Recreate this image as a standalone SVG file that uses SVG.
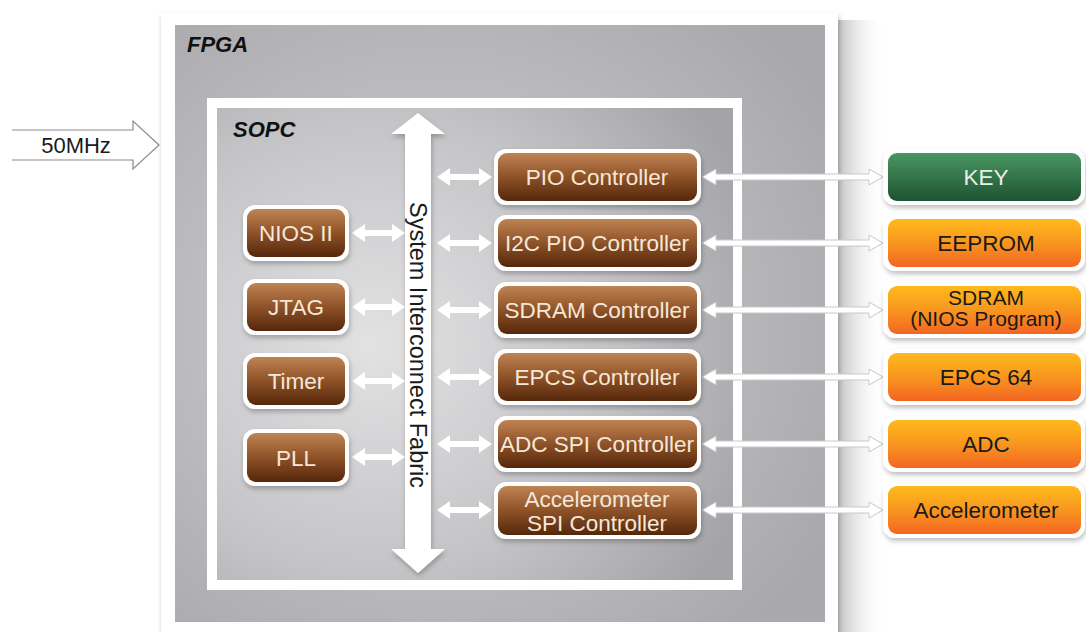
<svg xmlns="http://www.w3.org/2000/svg" width="1086" height="632" viewBox="0 0 1086 632">
<defs>
<linearGradient id="brown" x1="0" y1="0" x2="0" y2="1">
<stop offset="0" stop-color="#c08352"/><stop offset="0.5" stop-color="#8e5228"/><stop offset="1" stop-color="#55270a"/>
</linearGradient>
<linearGradient id="green" x1="0" y1="0" x2="0" y2="1">
<stop offset="0" stop-color="#4b9662"/><stop offset="1" stop-color="#1d5331"/>
</linearGradient>
<linearGradient id="orange" x1="0" y1="0" x2="0" y2="1">
<stop offset="0" stop-color="#ffba1c"/><stop offset="0.55" stop-color="#f8921f"/><stop offset="1" stop-color="#f26522"/>
</linearGradient>
<radialGradient id="fpgaBg" cx="0.4" cy="0.5" r="0.7">
<stop offset="0" stop-color="#d2d2d4"/><stop offset="1" stop-color="#a9a9ad"/>
</radialGradient>
<radialGradient id="sopcBg" cx="0.3" cy="0.5" r="0.8">
<stop offset="0" stop-color="#e2e2e3"/><stop offset="0.6" stop-color="#c4c4c7"/><stop offset="1" stop-color="#a4a4a8"/>
</radialGradient>
<linearGradient id="shadowR" x1="0" y1="0" x2="1" y2="0">
<stop offset="0" stop-color="#9a9a9e" stop-opacity="0.6"/><stop offset="1" stop-color="#ffffff" stop-opacity="0"/>
</linearGradient>
<filter id="ds" x="-10%" y="-10%" width="130%" height="140%">
<feDropShadow dx="1" dy="3" stdDeviation="2.5" flood-color="#000" flood-opacity="0.25"/>
</filter>
<style>
.frame{fill:#ffffff}
.bwrap{fill:#ffffff}
.bbox{fill:url(#brown)}
.gbox{fill:url(#green)}
.obox{fill:url(#orange)}
.lt{font-family:"Liberation Sans",Arial,sans-serif;font-size:22.5px;fill:#f5e8d8;text-anchor:middle}
.dt{font-family:"Liberation Sans",Arial,sans-serif;font-size:22.5px;fill:#1a1a1a;text-anchor:middle}
.gt{font-family:"Liberation Sans",Arial,sans-serif;font-size:22.5px;fill:#e8f0ea;text-anchor:middle}
.title{font-family:"Liberation Sans",Arial,sans-serif;font-size:22px;font-weight:bold;font-style:italic;fill:#111}
.arr{fill:#ffffff;stroke:#c8c8c8;stroke-width:1}
.warr{fill:#ffffff}
</style>
</defs>
<rect width="1086" height="632" fill="#ffffff"/>

<!-- FPGA -->
<g id="fpga">
<rect x="838" y="20" width="48" height="612" fill="url(#shadowR)"/>
<rect x="161" y="13" width="677" height="630" class="frame" filter="url(#ds)"/>
<rect x="175" y="25" width="650" height="597" fill="url(#fpgaBg)"/>
<text x="187" y="52" class="title">FPGA</text>
</g>

<!-- SOPC -->
<g id="sopc">
<rect x="207" y="98" width="535" height="492" class="frame"/>
<rect x="217" y="108" width="516" height="472" fill="url(#sopcBg)"/>
<text x="233" y="137" class="title">SOPC</text>
</g>

<!-- 50MHz input -->
<g id="clk">
<path d="M12 130 H133 V121 L159 145 L133 169 V160 H12" fill="#ffffff" stroke="#8a8a8a" stroke-width="1.2"/>
<text x="76" y="153" class="dt" style="font-size:22px">50MHz</text>
</g>

<!-- Bus -->
<g id="bus">
<polygon points="418,113 445,134 431,134 431,549 445,549 418,573 391,549 405,549 405,134 391,134" class="warr" filter="url(#ds)"/>
<text transform="translate(410,345) rotate(90)" class="dt" style="font-size:23.5px">System Interconnect Fabric</text>
</g>

<!-- connectors -->
<g id="connectors">
<!-- left modules to bus -->
<g class="warr">
<polygon points="352,233 365,224 365,230 392,230 392,224 405,233 392,242 392,236 365,236 365,242"/>
<polygon points="352,307 365,298 365,304 392,304 392,298 405,307 392,316 392,310 365,310 365,316"/>
<polygon points="352,381 365,372 365,378 392,378 392,372 405,381 392,390 392,384 365,384 365,390"/>
<polygon points="352,457 365,448 365,454 392,454 392,448 405,457 392,466 392,460 365,460 365,466"/>
</g>
<!-- bus to controllers -->
<g class="warr">
<polygon points="437,177 450,168 450,174 479,174 479,168 492,177 479,186 479,180 450,180 450,186"/>
<polygon points="437,243 450,234 450,240 479,240 479,234 492,243 479,252 479,246 450,246 450,252"/>
<polygon points="437,310 450,301 450,307 479,307 479,301 492,310 479,319 479,313 450,313 450,319"/>
<polygon points="437,377 450,368 450,374 479,374 479,368 492,377 479,386 479,380 450,380 450,386"/>
<polygon points="437,444 450,435 450,441 479,441 479,435 492,444 479,453 479,447 450,447 450,453"/>
<polygon points="437,510 450,501 450,507 479,507 479,501 492,510 479,519 479,513 450,513 450,519"/>
</g>
<!-- controllers to devices -->
<g class="arr">
<polygon points="702,177 716,169 716,174 869,174 869,169 883,177 869,185 869,180 716,180 716,185"/>
<polygon points="702,243 716,235 716,240 869,240 869,235 883,243 869,251 869,246 716,246 716,251"/>
<polygon points="702,310 716,302 716,307 869,307 869,302 883,310 869,318 869,313 716,313 716,318"/>
<polygon points="702,377 716,369 716,374 869,374 869,369 883,377 869,385 869,380 716,380 716,385"/>
<polygon points="702,444 716,436 716,441 869,441 869,436 883,444 869,452 869,447 716,447 716,452"/>
<polygon points="702,510 716,502 716,507 869,507 869,502 883,510 869,518 869,513 716,513 716,518"/>
</g>
</g>

<!-- Left modules -->
<g id="nios">
<rect x="243" y="205" width="106" height="56" rx="12" class="bwrap" filter="url(#ds)"/>
<rect x="247" y="209" width="98" height="48" rx="9" class="bbox"/>
<text x="296" y="241" class="lt">NIOS II</text>
</g>
<g id="jtag">
<rect x="243" y="279" width="106" height="56" rx="12" class="bwrap" filter="url(#ds)"/>
<rect x="247" y="283" width="98" height="48" rx="9" class="bbox"/>
<text x="296" y="315" class="lt">JTAG</text>
</g>
<g id="timer">
<rect x="243" y="353" width="106" height="56" rx="12" class="bwrap" filter="url(#ds)"/>
<rect x="247" y="357" width="98" height="48" rx="9" class="bbox"/>
<text x="296" y="389" class="lt">Timer</text>
</g>
<g id="pll">
<rect x="243" y="429" width="106" height="57" rx="12" class="bwrap" filter="url(#ds)"/>
<rect x="247" y="433" width="98" height="49" rx="9" class="bbox"/>
<text x="296" y="466" class="lt">PLL</text>
</g>

<!-- Controllers -->
<g id="pio">
<rect x="494" y="149" width="207" height="56" rx="12" class="bwrap" filter="url(#ds)"/>
<rect x="498" y="153" width="199" height="48" rx="9" class="bbox"/>
<text x="597" y="185" class="lt">PIO Controller</text>
</g>
<g id="i2c">
<rect x="494" y="215" width="207" height="56" rx="12" class="bwrap" filter="url(#ds)"/>
<rect x="498" y="219" width="199" height="48" rx="9" class="bbox"/>
<text x="597" y="251" class="lt">I2C PIO Controller</text>
</g>
<g id="sdramc">
<rect x="494" y="282" width="207" height="56" rx="12" class="bwrap" filter="url(#ds)"/>
<rect x="498" y="286" width="199" height="48" rx="9" class="bbox"/>
<text x="597" y="318" class="lt">SDRAM Controller</text>
</g>
<g id="epcsc">
<rect x="494" y="349" width="207" height="56" rx="12" class="bwrap" filter="url(#ds)"/>
<rect x="498" y="353" width="199" height="48" rx="9" class="bbox"/>
<text x="597" y="385" class="lt">EPCS Controller</text>
</g>
<g id="adcc">
<rect x="494" y="416" width="207" height="56" rx="12" class="bwrap" filter="url(#ds)"/>
<rect x="498" y="420" width="199" height="48" rx="9" class="bbox"/>
<text x="597" y="452" class="lt">ADC SPI Controller</text>
</g>
<g id="accc">
<rect x="494" y="482" width="207" height="57" rx="12" class="bwrap" filter="url(#ds)"/>
<rect x="498" y="486" width="199" height="49" rx="9" class="bbox"/>
<text x="597" y="507" class="lt">Accelerometer</text>
<text x="597" y="531" class="lt">SPI Controller</text>
</g>

<!-- External devices -->
<g id="key">
<rect x="883" y="149" width="202" height="56" rx="12" class="bwrap" filter="url(#ds)"/>
<rect x="888" y="153" width="193" height="48" rx="9" class="gbox"/>
<text x="986" y="185" class="gt">KEY</text>
</g>
<g id="eeprom">
<rect x="883" y="215" width="202" height="56" rx="12" class="bwrap" filter="url(#ds)"/>
<rect x="888" y="219" width="193" height="48" rx="9" class="obox"/>
<text x="986" y="251" class="dt">EEPROM</text>
</g>
<g id="sdram">
<rect x="883" y="282" width="202" height="56" rx="12" class="bwrap" filter="url(#ds)"/>
<rect x="888" y="286" width="193" height="48" rx="9" class="obox"/>
<text x="986" y="305" class="dt" style="font-size:21px">SDRAM</text>
<text x="986" y="326" class="dt" style="font-size:21px">(NIOS Program)</text>
</g>
<g id="epcs">
<rect x="883" y="349" width="202" height="56" rx="12" class="bwrap" filter="url(#ds)"/>
<rect x="888" y="353" width="193" height="48" rx="9" class="obox"/>
<text x="986" y="385" class="dt">EPCS 64</text>
</g>
<g id="adc">
<rect x="883" y="416" width="202" height="56" rx="12" class="bwrap" filter="url(#ds)"/>
<rect x="888" y="420" width="193" height="48" rx="9" class="obox"/>
<text x="986" y="452" class="dt">ADC</text>
</g>
<g id="accel">
<rect x="883" y="482" width="202" height="56" rx="12" class="bwrap" filter="url(#ds)"/>
<rect x="888" y="486" width="193" height="48" rx="9" class="obox"/>
<text x="986" y="518" class="dt">Accelerometer</text>
</g>
</svg>
